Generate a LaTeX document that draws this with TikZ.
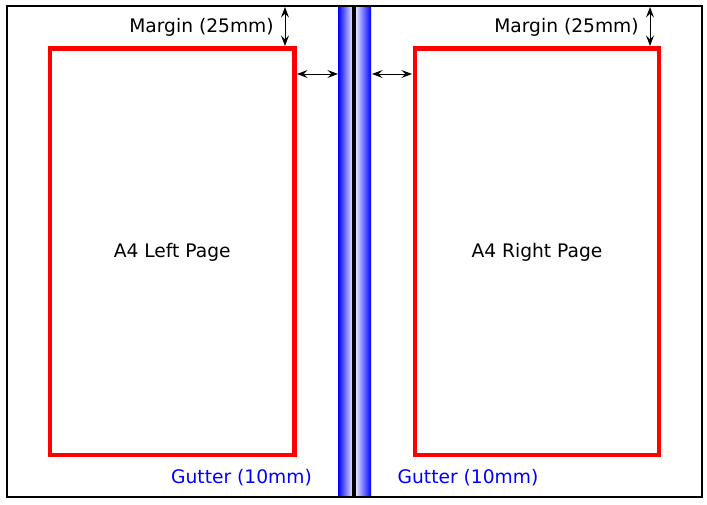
\documentclass[tikz,border=0pt]{standalone}
\usepackage{fontspec}
\setmainfont{DejaVu Sans}
\usetikzlibrary{arrows.meta}
\tikzset{
  sheet/.style={draw=black,line width=1.5pt,rectangle,inner sep=0pt,minimum width=521.25pt,minimum height=368.25pt},
  page/.style={draw=red,line width=3.5pt,rectangle,inner sep=0pt,minimum width=183.1pt,minimum height=304.8pt,text depth=1.6pt,font=\fontsize{14}{16}\selectfont},
  lab/.style={inner sep=0pt,anchor=base,font=\fontsize{14}{16}\selectfont},
  gutterlab/.style={lab,text=blue},
  dim/.style={{Stealth[length=8pt,width=6pt,inset=3pt]}-{Stealth[length=8pt,width=6pt,inset=3pt]},line width=0.7pt,black},
  spine/.style={line width=2.4pt,black}
}
\begin{document}
\begin{tikzpicture}[x=0.75pt,y=-0.75pt]
\useasboundingbox (0,0) rectangle (707,505);
\fill[white] (0,0) rectangle (707,505);
\shade[left color=blue,middle color=blue!65!white,right color=white,shading=axis,shading angle=90] (338,6) rectangle (354,497);
\shade[left color=white,middle color=blue!65!white,right color=blue,shading=axis,shading angle=90] (354,6) rectangle (371,497);
\node[sheet] (sheet) at (354.5,251.5) {};
\coordinate (spinetop) at (354,6);
\coordinate (spinebot) at (354,497);
\draw[spine] (spinetop) -- (spinebot);
\node[page] (left) at (172.2,251.8) {A4 Left Page};
\node[page] (right) at (537,251.8) {A4 Right Page};
\coordinate (mtl) at (285,7);
\coordinate (mbl) at (285,46);
\coordinate (mtr) at (650,7);
\coordinate (mbr) at (650,46);
\draw[dim] (mtl) -- (mbl);
\draw[dim] (mtr) -- (mbr);
\coordinate (gl1) at (297,74);
\coordinate (gl2) at (338,74);
\coordinate (gr1) at (372,74);
\coordinate (gr2) at (412,74);
\draw[dim] (gl1) -- (gl2);
\draw[dim] (gr1) -- (gr2);
\node[lab] (ml) at (201.5,33) {Margin (25mm)};
\node[lab] (mr) at (566.5,33) {Margin (25mm)};
\node[gutterlab] (gl) at (241.5,483.5) {Gutter (10mm)};
\node[gutterlab] (gr) at (468,483.5) {Gutter (10mm)};
\end{tikzpicture}
\end{document}
